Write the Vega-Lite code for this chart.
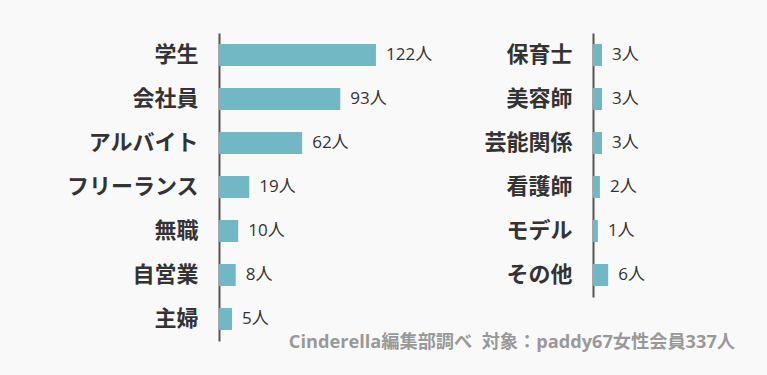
{
  "$schema": "https://vega.github.io/schema/vega-lite/v6.json",
  "background": "#f9f9f9",
  "padding": {"left": 65, "top": 33, "right": 32, "bottom": 30},
  "bounds": "flush",
  "spacing": 134,
  "config": {
    "view": {"stroke": null},
    "font": "Open Sans, Noto Sans CJK JP"
  },
  "datasets": {
    "left": [
      {"job": "学生", "count": 122, "label": "122人"},
      {"job": "会社員", "count": 93, "label": "93人"},
      {"job": "アルバイト", "count": 62, "label": "62人"},
      {"job": "フリーランス", "count": 19, "label": "19人"},
      {"job": "無職", "count": 10, "label": "10人"},
      {"job": "自営業", "count": 8, "label": "8人"},
      {"job": "主婦", "count": 5, "label": "5人"}
    ],
    "right": [
      {"job": "保育士", "count": 3, "label": "3人"},
      {"job": "美容師", "count": 3, "label": "3人"},
      {"job": "芸能関係", "count": 3, "label": "3人"},
      {"job": "看護師", "count": 2, "label": "2人"},
      {"job": "モデル", "count": 1, "label": "1人"},
      {"job": "その他", "count": 6, "label": "6人"}
    ]
  },
  "hconcat": [
    {
      "data": {"name": "left"},
      "width": 240,
      "height": {"step": 44},
      "encoding": {
        "y": {
          "field": "job", "type": "nominal", "sort": null,
          "scale": {"paddingInner": 0.5, "paddingOuter": 0.25},
          "axis": {
            "title": null, "ticks": false, "domain": true, "domainColor": "#555555", "domainWidth": 2,
            "labelFontSize": 22, "labelFontWeight": "bold", "labelColor": "#333333", "labelPadding": 21,
            "labelFont": "Open Sans, Noto Sans CJK JP"
          }
        },
        "x": {"field": "count", "type": "quantitative", "scale": {"domain": [-5.6, 189.5], "zero": false, "nice": false}, "axis": null}
      },
      "layer": [
        {"mark": {"type": "bar", "color": "#72b8c4"}, "encoding": {"x2": {"datum": -5.6}}},
        {"mark": {"type": "text", "align": "left", "baseline": "middle", "dx": 10, "fontSize": 17, "color": "#333333"},
         "encoding": {"text": {"field": "label"}}}
      ]
    },
    {
      "data": {"name": "right"},
      "width": 142,
      "height": {"step": 44},
      "title": {
        "text": "Cinderella編集部調べ\u00a0\u00a0対象：paddy67女性会員337人",
        "orient": "bottom", "anchor": "end", "frame": "group",
        "fontSize": 18.2, "fontWeight": "bold", "color": "#999999", "offset": 37,
        "font": "Open Sans, Noto Sans CJK JP"
      },
      "encoding": {
        "y": {
          "field": "job", "type": "nominal", "sort": null,
          "scale": {"paddingInner": 0.5, "paddingOuter": 0.25},
          "axis": {
            "title": null, "ticks": false, "domain": true, "domainColor": "#555555", "domainWidth": 2,
            "labelFontSize": 22, "labelFontWeight": "bold", "labelColor": "#333333", "labelPadding": 21,
            "labelFont": "Open Sans, Noto Sans CJK JP"
          }
        },
        "x": {"field": "count", "type": "quantitative", "scale": {"domain": [-1.37, 67.6], "zero": false, "nice": false}, "axis": null}
      },
      "layer": [
        {"mark": {"type": "bar", "color": "#72b8c4"}, "encoding": {"x2": {"datum": -1.37}}},
        {"mark": {"type": "text", "align": "left", "baseline": "middle", "dx": 10, "fontSize": 17, "color": "#333333"},
         "encoding": {"text": {"field": "label"}}}
      ]
    }
  ]
}
